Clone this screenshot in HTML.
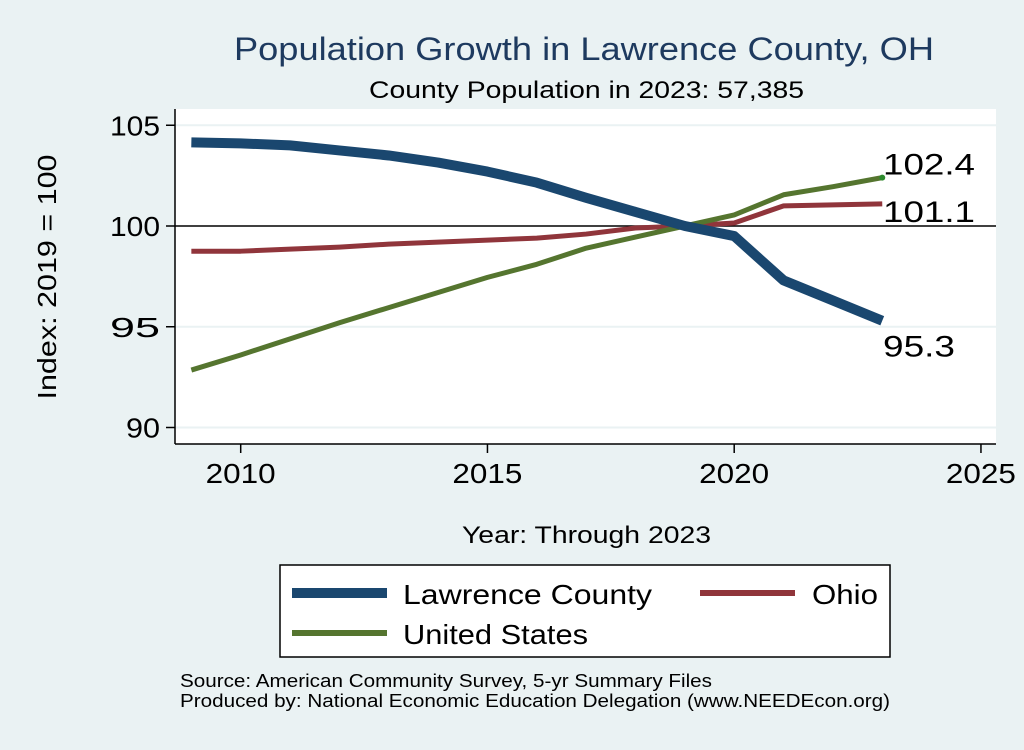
<!DOCTYPE html>
<html><head><meta charset="utf-8"><style>
body{margin:0;background:#eaf2f3;font-family:"Liberation Sans",sans-serif;}
</style></head><body>
<svg width="1024" height="745" xmlns="http://www.w3.org/2000/svg" font-family="Liberation Sans, sans-serif">
<rect width="1024" height="745" fill="#eaf2f3"/>
<text x="234" y="60" font-size="32" fill="#1e3a5f" textLength="700" lengthAdjust="spacingAndGlyphs">Population Growth in Lawrence County, OH</text>
<text x="369" y="98" font-size="24" fill="#000" textLength="435" lengthAdjust="spacingAndGlyphs">County Population in 2023: 57,385</text>
<rect x="175" y="109" width="821" height="335" fill="#fff"/>
<g id="grid"></g>
<g id="series"></g>
<g id="axes"></g>
<text x="56" y="277" font-size="26" text-anchor="middle" textLength="245" lengthAdjust="spacingAndGlyphs" transform="rotate(-90 56 277)">Index: 2019 = 100</text>
<text x="462" y="543" font-size="24" textLength="249" lengthAdjust="spacingAndGlyphs">Year: Through 2023</text>
<g>
<rect x="280" y="565" width="610" height="92" fill="#fff" stroke="#000" stroke-width="1.5"/>
<g><line x1="292" y1="593" x2="387" y2="593" stroke="#1a476f" stroke-width="10"/><text x="403" y="604" font-size="28" textLength="249" lengthAdjust="spacingAndGlyphs">Lawrence  County</text></g>
<g><line x1="700" y1="593" x2="795" y2="593" stroke="#90353b" stroke-width="6"/><text x="812" y="604" font-size="28" textLength="66" lengthAdjust="spacingAndGlyphs">Ohio</text></g>
<g><line x1="292" y1="633" x2="387" y2="633" stroke="#55752f" stroke-width="6"/><text x="403" y="644" font-size="28" textLength="185" lengthAdjust="spacingAndGlyphs">United States</text></g>
</g>
<text x="180" y="687" font-size="18" textLength="532" lengthAdjust="spacingAndGlyphs">Source: American Community Survey, 5-yr Summary Files</text>
<text x="180" y="707" font-size="18" textLength="710" lengthAdjust="spacingAndGlyphs">Produced by: National Economic Education Delegation (www.NEEDEcon.org)</text>
</svg>
<script>
const years=[2009,2010,2011,2012,2013,2014,2015,2016,2017,2018,2019,2020,2021,2022,2023];
const lawrence=[104.15,104.1,104.0,103.75,103.5,103.15,102.7,102.15,101.4,100.7,100,99.5,97.3,96.3,95.3];
const ohio=[98.75,98.75,98.85,98.95,99.1,99.2,99.3,99.4,99.6,99.9,100,100.15,101.0,101.05,101.1];
const us=[92.85,93.6,94.4,95.2,95.95,96.7,97.45,98.1,98.9,99.45,100,100.55,101.55,101.95,102.4];
const yTicks=[90,95,100,105];
const xTicks=[2010,2015,2020,2025];
const endLabels=["95.3","101.1","102.4"];
const NS="http://www.w3.org/2000/svg";
const xs=v=>240.7+(v-2010)*49.35;
const ys=v=>226-(v-100)*20.15;
function mk(t,a,p){const e=document.createElementNS(NS,t);for(const k in a)e.setAttribute(k,a[k]);p.appendChild(e);return e;}
const grid=document.getElementById('grid'),axes=document.getElementById('axes'),ser=document.getElementById('series');
yTicks.forEach(t=>{
 const g=mk('line',{x1:175,x2:996,y1:ys(t),y2:ys(t),stroke:t===100?'#000':'#eaf2f3','stroke-width':t===100?1.5:2},grid);
 
 
 const tk=mk('line',{x1:166,x2:175,y1:ys(t),y2:ys(t),stroke:'#000','stroke-width':1.5},axes);
 
 
 const tx=mk('text',{x:110,y:ys(t)+10,'font-size':28,textLength:50,lengthAdjust:'spacingAndGlyphs'},axes);tx.textContent=t;
 if(t===90){tx.setAttribute('x',126);tx.setAttribute('textLength',34);}
 
 
});
xTicks.forEach(t=>{
 const tk=mk('line',{x1:xs(t),x2:xs(t),y1:444,y2:453,stroke:'#000','stroke-width':1.5},axes);
 
 
 const tx=mk('text',{x:xs(t)-35,y:483,'font-size':28,textLength:70,lengthAdjust:'spacingAndGlyphs'},axes);tx.textContent=t;
 
 
});
const la=mk('line',{x1:175,x2:175,y1:109,y2:444,stroke:'#000','stroke-width':1.5},axes);


const lb=mk('line',{x1:175,x2:996,y1:444,y2:444,stroke:'#000','stroke-width':1.5},axes);


function line(data,color,w,name){
 const p=mk('polyline',{points:data.map((v,i)=>xs(years[i])+','+ys(v)).join(' '),fill:'none',stroke:color,'stroke-width':w,'stroke-linejoin':'round'},ser);
 
 
}
line(ohio,'#90353b',5,'ohio-line');
line(us,'#55752f',5,'us-line');
line(lawrence,'#1a476f',10,'lawrence-line');
const last=years.length-1;
const dot=mk('circle',{cx:xs(years[last]),cy:ys(us[last]),r:3,fill:'#2e8b2e'},ser);


[[lawrence,36,'lawrence-end-label',72],[ohio,18,'ohio-end-label',92],[us,-3,'us-end-label',92]].forEach((d,i)=>{
 const t=mk('text',{x:883,y:ys(d[0][last])+d[1],'font-size':30,textLength:d[3],lengthAdjust:'spacingAndGlyphs'},ser);
 t.textContent=endLabels[i];
 
 
});
</script>
</body></html>
